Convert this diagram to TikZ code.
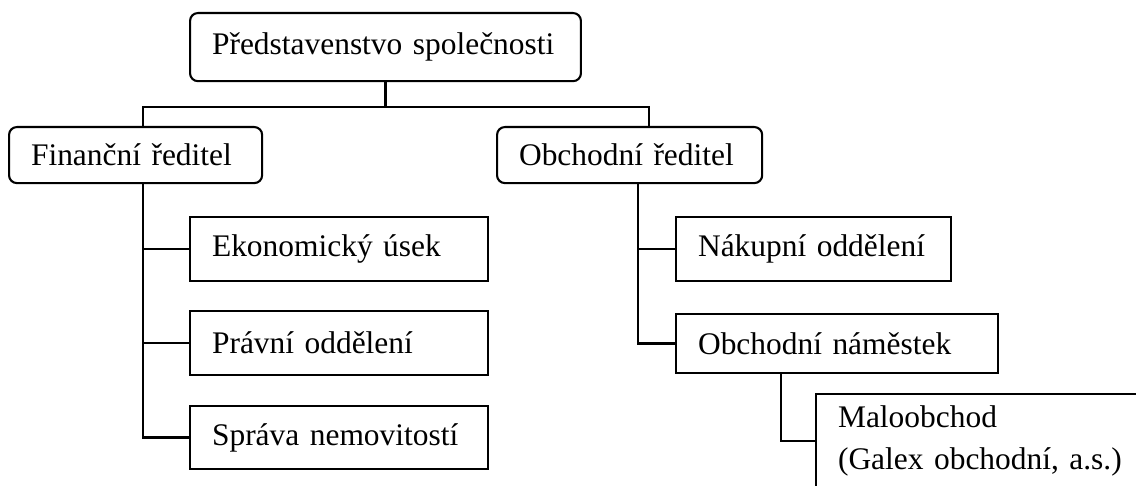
\documentclass[tikz,border=0pt]{standalone}
\usepackage{fontspec}
\setmainfont{Liberation Serif}
\usepackage{tikz}

\begin{document}
\begin{tikzpicture}[
                x=0.3817pt, y=-0.3817pt, % one unit is one pixel of the page
                line width=0.8pt,
                every node/.style={draw, anchor=north west, align=left, inner xsep=8.4pt, font=\fontsize{12}{16}\selectfont}, % boxes
                board/.style={rounded corners=3pt} % rounded boxes for the heads
                ]
                \useasboundingbox (0,0) rectangle (1136,486);
                \clip (0,0) rectangle (1136,486);

                % heads
                \node[board, text width=132.4pt, minimum height=26pt] (predst) at (189,12) {Představenstvo společnosti};
                \node[board, text width=79.8pt, minimum height=21.4pt] (fin) at (8,126) {Finanční ředitel};
                \node[board, text width=84.4pt, minimum height=21.4pt] (obch) at (496,126) {Obchodní ředitel};

                % departments
                \node[text width=96.9pt, minimum height=24.4pt] (ekon) at (189,216) {Ekonomický úsek};
                \node[text width=96.9pt, minimum height=24.4pt] (prav) at (189,310) {Právní oddělení};
                \node[text width=96.9pt, minimum height=24pt] (sprava) at (189,405) {Správa nemovitostí};
                \node[text width=88.2pt, minimum height=24.4pt] (nakup) at (675,216) {Nákupní oddělení};
                \node[text width=106.1pt, minimum height=22.5pt] (namest) at (675,313) {Obchodní náměstek};
                \node[text width=113pt, minimum height=35.9pt] (malo) at (815,393) {Maloobchod\\(Galex obchodní, a.s.)};

                % connectors
                \coordinate (busL) at (143,107);
                \coordinate (busR) at (649,107);
                \coordinate (trunkR) at (638,0);
                \coordinate (subR) at (781,0);
                \draw (predst.south) -- (predst.south |- busL);
                \draw (fin.north -| busL) -- (busL) -- (busR) -- (obch.north -| busR);
                \draw (fin.south -| busL) |- (sprava.west);
                \draw (ekon.west) -- (ekon.west -| busL);
                \draw (prav.west) -- (prav.west -| busL);
                \draw (obch.south -| trunkR) |- (namest.west);
                \draw (nakup.west) -- (nakup.west -| trunkR);
                \draw (namest.south -| subR) |- (malo.west);
            \end{tikzpicture}
\end{document}
